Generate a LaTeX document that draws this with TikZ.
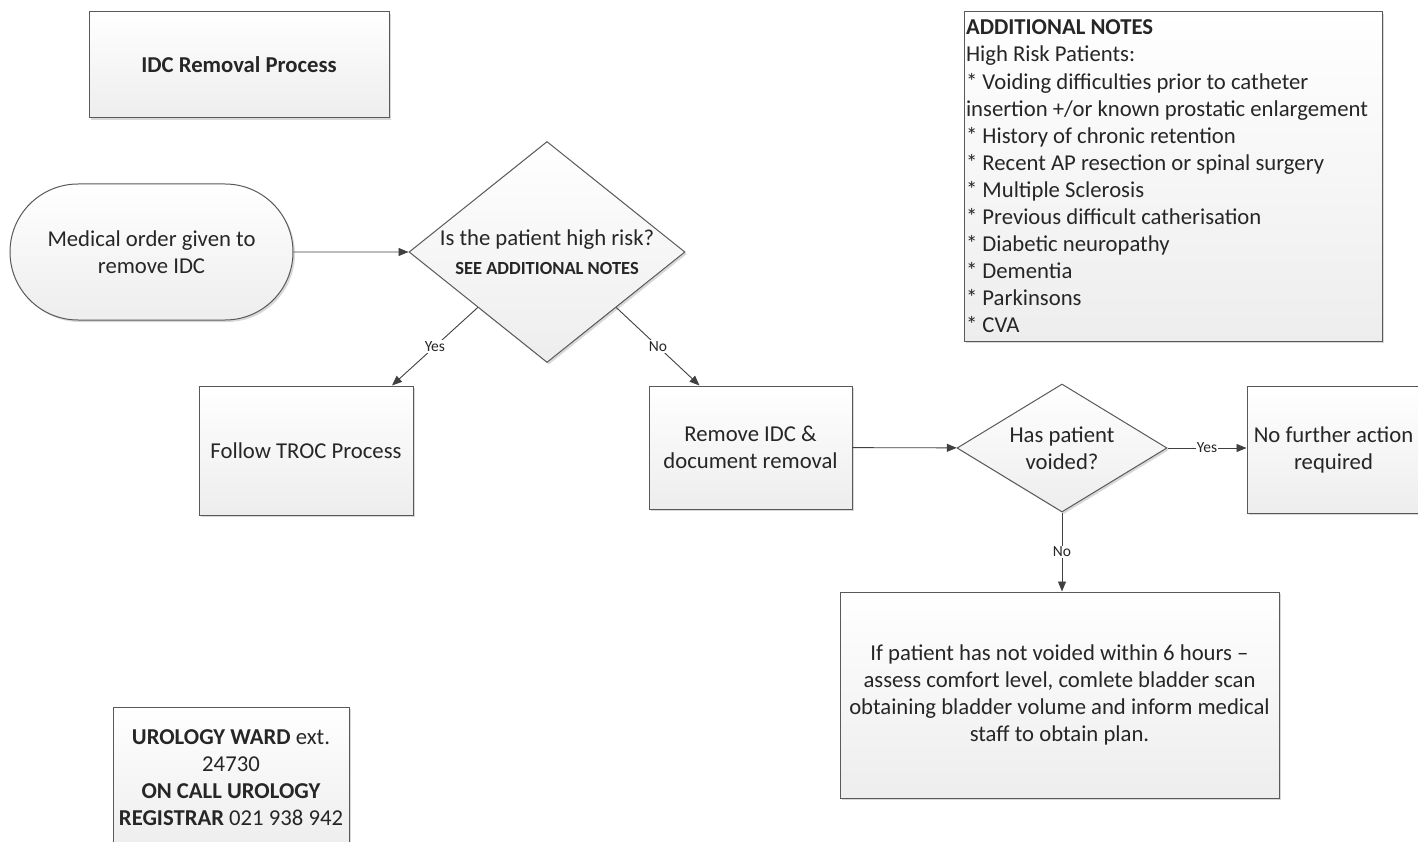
\documentclass[tikz,border=0pt]{standalone}
\usepackage{fontspec}
\setmainfont{Carlito}
\usepackage{xcolor}
\usepackage{tikz}
\usetikzlibrary{arrows.meta,positioning,calc,shapes.geometric,shapes.misc,shadows}

\definecolor{edgegray}{HTML}{595959}
\definecolor{linegray}{HTML}{404040}
\definecolor{txtgray}{HTML}{262626}

\tikzset{
  base/.style={draw=edgegray, line width=1pt, top color=white, bottom color=black!7,
    text=txtgray, font=\fontsize{22.7}{27}\selectfont, align=center, inner sep=2pt,
    drop shadow={shadow xshift=2pt, shadow yshift=-2pt, fill=black!30, opacity=0.5}},
  process/.style={base, rectangle},
  terminal/.style={base, rounded rectangle},
  decision/.style={base, diamond, inner sep=-14pt},
  flow/.style={draw=linegray, line width=0.9pt, -{Triangle[length=10pt,width=8pt]}},
  answer/.style={fill=white, inner sep=1pt, text=txtgray, font=\fontsize{15.5}{17}\selectfont},
}

\begin{document}
\begin{tikzpicture}[x=1pt, y=-1pt]
  \useasboundingbox (0,0) rectangle (1418,842);
  % side boxes
  \node[process, minimum width=300pt, minimum height=106pt] (title) at (239,65) {\textbf{IDC Removal Process}};
  \node[process, minimum width=418pt, minimum height=329pt, text width=414pt, align=flush left,
        font=\fontsize{22.7}{27.1}\selectfont] (notes) at (1173,176.5)
    {\textbf{ADDITIONAL NOTES}\\
     High Risk Patients:\\
     {*} Voiding difficulties prior to catheter\\
     insertion +/or known prostatic enlargement\\
     {*} History of chronic retention\\
     {*} Recent AP resection or spinal surgery\\
     {*} Multiple Sclerosis\\
     {*} Previous difficult catherisation\\
     {*} Diabetic neuropathy\\
     {*} Dementia\\
     {*} Parkinsons\\
     {*} CVA};
  \node[process, minimum width=236pt, minimum height=142pt] (ward) at (231,778)
    {\textbf{UROLOGY WARD} ext.\\24730\\\textbf{ON CALL UROLOGY}\\\textbf{REGISTRAR} 021 938 942};
  % flow
  \node[terminal, minimum width=287pt, minimum height=136pt] (start) at (151.5,252) {Medical order given to\\remove IDC};
  \node[decision, minimum width=276pt, minimum height=221pt] (risk) at (547,252)
    {Is the patient high risk?\\[2pt]{\fontsize{18.5}{20}\selectfont\bfseries SEE ADDITIONAL NOTES}};
  \node[process, minimum width=214pt, minimum height=129pt] (troc) at (306,450.5) {Follow TROC Process};
  \node[process, minimum width=203pt, minimum height=123pt] (remove) at (750.5,447.5) {Remove IDC \&\\document removal};
  \node[decision, minimum width=210pt, minimum height=128pt] (voided) at (1062,448) {Has patient\\voided?};
  \node[process, minimum width=173pt, minimum height=127pt] (nofurther) at (1333.5,449.5) {No further action\\required};
  \node[process, minimum width=439pt, minimum height=206pt] (scan) at (1059.5,695)
    {If patient has not voided within 6 hours --\\
     assess comfort level, comlete bladder scan\\
     obtaining bladder volume and inform medical\\
     staff to obtain plan.};
  % connectors
  \draw[flow] (start) -- (risk);
  \draw[flow] (risk.south west) -- node[answer] {Yes} ($(troc.north east)!0.1!(troc.north west)$);
  \draw[flow] (risk.south east) -- node[answer] {No} ($(remove.north west)!0.25!(remove.north east)$);
  \draw[flow] (remove) -- (voided);
  \draw[flow] (voided.east) -- node[answer] {Yes} (voided.east -| nofurther.west);
  \draw[flow] (voided.south) -- node[answer] {No} (voided.south |- scan.north);
\end{tikzpicture}
\end{document}
